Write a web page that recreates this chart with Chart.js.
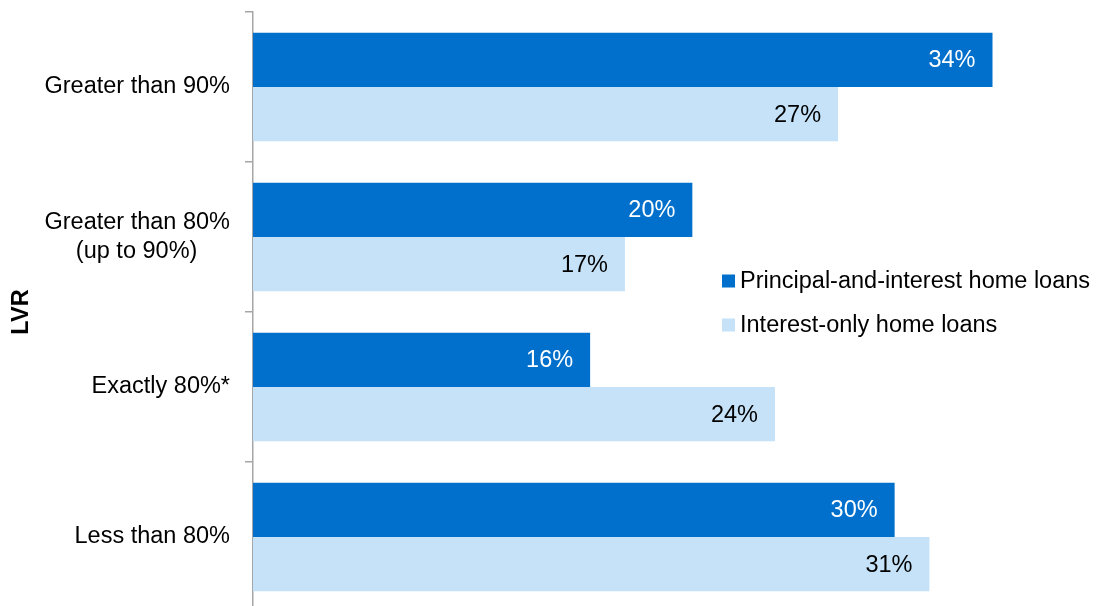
<!DOCTYPE html>
<html>
<head>
<meta charset="utf-8">
<script src="https://cdn.jsdelivr.net/npm/chart.js@4"></script>
<style>
  html, body { margin: 0; padding: 0; background: #fff; overflow: hidden; }
  #wrap { position: relative; width: 1101px; height: 612px; }
</style>
</head>
<body>
<div id="wrap"><canvas id="lvrChart"></canvas></div>
<script>
// LVR categories (top to bottom)
const categories = [
    'Greater than 90%',
    ['Greater than 80%', '(up to 90%)     '],
    'Exactly 80%*',
    'Less than 80%'
];
// shares of new loans, per cent
const principalAndInterest = [34.0, 20.2, 15.5, 29.5];
const interestOnly = [26.9, 17.1, 24.0, 31.1];
const seriesNames = ['Principal-and-interest home loans', 'Interest-only home loans'];
const seriesColors = ['#0070CC', '#C5E2F8'];
const labelColors = ['#FFFFFF', '#000000'];

const FONT = 'Arial, "Liberation Sans", sans-serif';
const FONT_SIZE = 23.5;

// value labels inside the end of each bar
const barLabels = {
    id: 'barLabels',
    afterDatasetsDraw(chart) {
        const ctx = chart.ctx;
        ctx.save();
        ctx.font = FONT_SIZE + 'px ' + FONT;
        ctx.textAlign = 'right';
        ctx.textBaseline = 'middle';
        chart.data.datasets.forEach((ds, i) => {
            chart.getDatasetMeta(i).data.forEach((bar, j) => {
                ctx.fillStyle = labelColors[i];
                ctx.fillText(Math.round(ds.data[j]) + '%', bar.x - 17, bar.y + 1);
            });
        });
        ctx.restore();
    }
};

// legend sitting inside the plot, right of the second group
const innerLegend = {
    id: 'innerLegend',
    afterDraw(chart) {
        const ctx = chart.ctx;
        ctx.save();
        ctx.font = FONT_SIZE + 'px ' + FONT;
        ctx.textAlign = 'left';
        ctx.textBaseline = 'middle';
        chart.data.datasets.forEach((ds, i) => {
            const y = 281 + i * 44;
            ctx.fillStyle = ds.backgroundColor;
            ctx.fillRect(722, y - 6.5, 13, 13);
            ctx.fillStyle = '#000';
            ctx.fillText(ds.label, 740, y + 1);
        });
        ctx.restore();
    }
};

new Chart(document.getElementById('lvrChart'), {
    type: 'bar',
    data: {
        labels: categories,
        datasets: [
            { label: seriesNames[0], data: principalAndInterest, backgroundColor: seriesColors[0] },
            { label: seriesNames[1], data: interestOnly, backgroundColor: seriesColors[1] }
        ]
    },
    options: {
        indexAxis: 'y',
        responsive: true,
        maintainAspectRatio: false,
        animation: false,
        datasets: {
            bar: { categoryPercentage: 0.724, barPercentage: 1.0, borderWidth: 0 }
        },
        layout: { padding: { top: 12, right: 21.5, bottom: 0, left: 0 } },
        plugins: {
            legend: { display: false },
            tooltip: { enabled: false }
        },
        scales: {
            x: {
                display: false,
                min: 0,
                max: 38
            },
            y: {
                afterFit(scale) {
                    scale.width = 253;
                    scale.paddingTop = 0;
                    scale.paddingBottom = 0;
                },
                border: { display: true, color: '#A6A6A6', width: 1.5 },
                grid: {
                    offset: true,
                    drawOnChartArea: false,
                    drawTicks: true,
                    tickLength: 8,
                    color: '#A6A6A6',
                    lineWidth: 1.5
                },
                ticks: {
                    padding: 15,
                    color: '#000',
                    font: { family: FONT, size: FONT_SIZE }
                },
                title: {
                    display: true,
                    text: 'LVR',
                    color: '#000',
                    font: { family: FONT, size: FONT_SIZE, weight: 'bold' },
                    padding: { top: 7, bottom: 0 }
                }
            }
        }
    },
    plugins: [barLabels, innerLegend]
});
</script>
</body>
</html>
